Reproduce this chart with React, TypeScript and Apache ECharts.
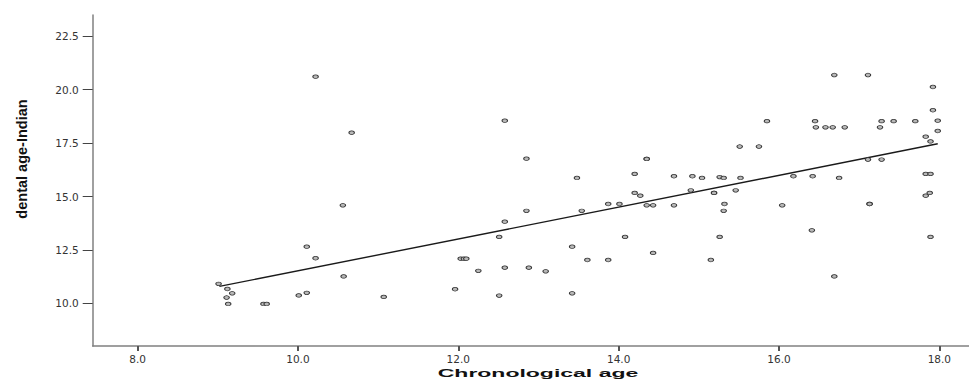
import React, { useEffect, useRef } from "react";
import * as echarts from "echarts";

const chronoAge = [
  10.22, 10.67, 10.56, 10.11, 10.22, 10.57, 9.01, 9.12, 9.18, 9.11, 9.13, 9.57, 9.61, 10.01, 10.11,
  12.58, 12.85, 13.48, 14.35, 14.35, 14.2, 14.2, 14.27, 13.87, 14.01, 14.35, 14.43, 13.54, 12.85, 12.58,
  12.51, 14.08, 13.42, 14.43, 12.03, 12.07, 12.1, 13.61, 13.87, 12.25, 12.58, 12.88, 13.09, 11.96,
  12.51, 13.42, 11.07,
  16.69, 17.11, 17.92, 17.92, 17.98, 17.98, 17.83, 17.89, 15.85, 16.45, 16.46, 16.58, 16.67, 16.82,
  17.28, 17.43, 17.7, 17.26, 15.51, 15.75, 17.11, 17.28, 14.69, 14.92, 15.04, 15.26, 15.31, 15.52,
  16.18, 16.42, 16.75, 17.83, 17.89, 14.9, 15.19, 15.19, 15.46, 14.69, 15.32, 15.31, 16.04, 17.13,
  17.13, 17.83, 17.88, 15.26, 16.41, 17.89, 15.15, 16.69,
];
const dentalAge = [
  20.61, 17.99, 14.59, 12.65, 12.11, 11.26, 10.91, 10.67, 10.47, 10.27, 9.97, 9.97, 9.97, 10.37, 10.49,
  18.55, 16.77, 15.87, 16.76, 16.76, 16.06, 15.17, 15.04, 14.65, 14.65, 14.59, 14.59, 14.33, 14.33, 13.82,
  13.11, 13.11, 12.65, 12.36, 12.09, 12.09, 12.09, 12.03, 12.03, 11.52, 11.67, 11.67, 11.5, 10.66,
  10.36, 10.47, 10.3,
  20.69, 20.69, 20.13, 19.04, 18.55, 18.07, 17.8, 17.58, 18.53, 18.53, 18.24, 18.24, 18.24, 18.24,
  18.53, 18.53, 18.53, 18.24, 17.34, 17.34, 16.73, 16.73, 15.95, 15.95, 15.87, 15.91, 15.87, 15.87,
  15.95, 15.95, 15.87, 16.06, 16.06, 15.29, 15.17, 15.17, 15.29, 14.59, 14.65, 14.33, 14.59, 14.65,
  14.65, 15.04, 15.17, 13.11, 13.42, 13.11, 12.03, 11.26,
];

const fitX = [9.02, 17.98];
const fitY = [10.79, 17.47];

const xTicks = [8, 10, 12, 14, 16, 18];
const yTicks = [10, 12.5, 15, 17.5, 20, 22.5];

const xTitle = "Chronological age";
const yTitle = "dental age-Indian";

export default function App() {
  const ref = useRef<HTMLDivElement>(null);
  useEffect(() => {
    if (!ref.current) return;
    const chart = echarts.init(ref.current, null, { renderer: "svg" });
    const points = chronoAge.map((x, i) => [x, dentalAge[i]]);
    const fit = fitX.map((x, i) => [x, fitY[i]]);
    const axisColor = "#808080";
    const labelStyle = {
      color: "#333",
      fontFamily: "DejaVu Sans",
      fontSize: 10.5,
      formatter: (v: number) => v.toFixed(1),
    };
    chart.setOption({
      animation: false,
      backgroundColor: "#fff",
      grid: { left: 92.7, right: 0, top: 15, bottom: 35, containLabel: false },
      xAxis: {
        type: "value",
        min: 7.44,
        max: 18.37,
        splitLine: { show: false },
        axisLine: { show: true, onZero: false, lineStyle: { color: axisColor, width: 1.5 } },
        axisTick: { show: true, length: 5, customValues: xTicks, lineStyle: { color: "#555", width: 2 } },
        axisLabel: { ...labelStyle, margin: 7, customValues: xTicks },
      },
      yAxis: {
        type: "value",
        min: 8,
        max: 23.5,
        splitLine: { show: false },
        axisLine: { show: true, onZero: false, lineStyle: { color: axisColor, width: 1.5 } },
        axisTick: { show: true, length: 10, customValues: yTicks, lineStyle: { color: "#444", width: 1 } },
        axisLabel: { ...labelStyle, margin: 14, customValues: yTicks },
      },
      graphic: [
        {
          type: "text",
          x: 22,
          y: 159,
          rotation: Math.PI / 2,
          style: {
            text: yTitle,
            font: 'bold 14.5px "Liberation Sans"',
            fill: "#111",
            textAlign: "center",
            textVerticalAlign: "middle",
          },
        },
        {
          type: "text",
          x: 538,
          y: 373,
          scaleX: 2,
          style: {
            text: xTitle,
            font: 'bold 11.5px "Liberation Sans"',
            fill: "#111",
            textAlign: "center",
            textVerticalAlign: "middle",
          },
        },
      ],
      series: [
        {
          type: "scatter",
          data: points,
          symbol: "circle",
          symbolSize: [5.5, 3.6],
          itemStyle: { color: "#b8b8b8", borderColor: "#333", borderWidth: 0.9, opacity: 1 },
          z: 3,
        },
        {
          type: "line",
          data: fit,
          symbol: "none",
          lineStyle: { color: "#1a1a1a", width: 1.4 },
          z: 2,
        },
      ],
    });
    return () => chart.dispose();
  }, []);
  return (
    <div
      ref={ref}
      style={{ position: "absolute", left: 0, top: 0, width: 969, height: 381, background: "#fff" }}
    />
  );
}
